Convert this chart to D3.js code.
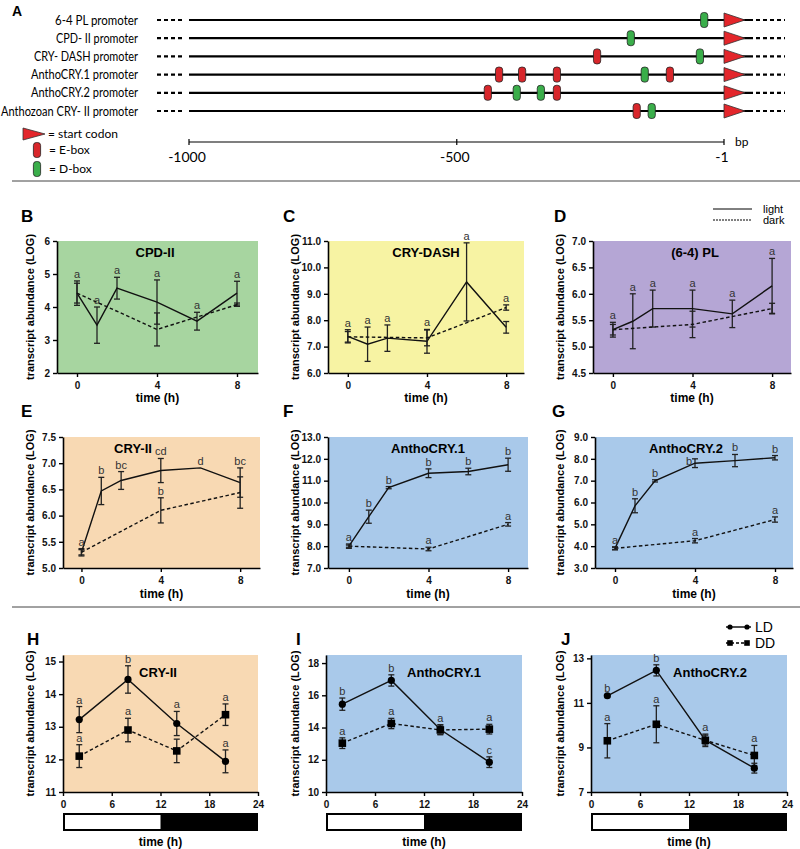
<!DOCTYPE html>
<html>
<head>
<meta charset="utf-8">
<script src="https://cdn.jsdelivr.net/npm/d3@7"></script>
<style>
  body { margin: 0; background: #fff; }
  svg { display: block; font-family: "Liberation Sans", Arial, sans-serif; }
  .tick text { font-weight: bold; font-size: 10px; fill: #111; }
  .promo text { font-family: Lato, "Open Sans", sans-serif; }
</style>
</head>
<body>
<svg width="800" height="849"></svg>
<script>
// ---------- panel A data ----------
const promoterNames = ["6-4 PL promoter", "CPD- II promoter", "CRY- DASH promoter",
  "AnthoCRY.1 promoter", "AnthoCRY.2 promoter", "Anthozoan CRY- II promoter"];
const eBoxes = [[], [], [-238], [-421, -378, -313, -102], [-442, -313], [-164]];
const dBoxes = [[-38], [-175], [-46], [-149], [-388, -343], [-136]];
const bpTicks = [-1000, -500, -1];

// ---------- panels B-G (light / dark time course) ----------
const hourTimes = [0, 1, 2, 4, 6, 8];
const darkTimes = [0, 4, 8];
const hourTicks = [0, 4, 8];

const cpdLight = [4.42, 3.45, 4.57, 4.15, 3.57, 4.42];
const cpdLightErr = [0.37, 0.55, 0.33, 0.67, 0.27, 0.36];
const cpdDark = [4.42, 3.32, 4.07];
const cpdDarkErr = [0.3, 0.5, 0.05];
const cpdLightLetters = ["a", "a", "a", "a", "a", "a"];

const dashLight = [7.39, 7.09, 7.32, 7.2, 9.45, 7.73];
const dashLightErr = [0.25, 0.65, 0.5, 0.45, 1.48, 0.22];
const dashDark = [7.37, 7.33, 8.48];
const dashDarkErr = [0.2, 0.3, 0.1];
const dashLightLetters = ["a", "a", "a", "a", "a", null];
const dashDarkLetters = [null, null, "a"];

const plLight = [5.32, 5.48, 5.72, 5.72, 5.62, 6.15];
const plLightErr = [0.14, 0.52, 0.35, 0.35, 0.26, 0.52];
const plDark = [5.32, 5.42, 5.72];
const plDarkErr = [0.1, 0.25, 0.1];
const plLightLetters = ["a", "a", "a", "a", "a", "a"];

const cry2Light = [5.3, 6.47, 6.67, 6.86, 6.91, 6.63];
const cry2LightErr = [0.07, 0.26, 0.17, 0.23, 0, 0.28];
const cry2Dark = [5.3, 6.1, 6.44];
const cry2DarkErr = [0.05, 0.24, 0.3];
const cry2LightLetters = ["a", "b", "bc", "cd", "d", "bc"];
const cry2DarkLetters = [null, "b", null];

const a1Light = [8.0, 9.35, 10.68, 11.34, 11.42, 11.73];
const a1LightErr = [0.1, 0.3, 0.05, 0.2, 0.15, 0.3];
const a1Dark = [8.0, 7.87, 9.0];
const a1DarkErr = [0.05, 0.08, 0.08];
const a1LightLetters = ["a", "b", "b", "b", "b", "b"];
const a1DarkLetters = [null, "a", "a"];

const a2Light = [3.9, 5.85, 6.99, 7.8, 7.92, 8.05];
const a2LightErr = [0.07, 0.32, 0.05, 0.2, 0.28, 0.1];
const a2Dark = [3.9, 4.25, 5.22];
const a2DarkErr = [0.05, 0.1, 0.12];
const a2LightLetters = ["a", "b", "b", "b", "b", "b"];
const a2DarkLetters = [null, "a", "a"];

// ---------- panels H-J (LD / DD) ----------
const cycleTimes = [2, 8, 14, 20];
const cycleTicks = [0, 6, 12, 18, 24];

const cry2LD = [13.22, 14.45, 13.1, 11.94];
const cry2LDErr = [0.4, 0.42, 0.37, 0.35];
const cry2LDLetters = ["a", "b", "a", "a"];
const cry2DD = [12.1, 12.9, 12.26, 13.37];
const cry2DDErr = [0.35, 0.36, 0.36, 0.33];
const cry2DDLetters = ["a", "a", null, "a"];

const a1LD = [15.45, 16.92, 13.88, 11.85];
const a1LDErr = [0.38, 0.35, 0.3, 0.33];
const a1LDLetters = ["b", "b", "a", "c"];
const a1DD = [13.03, 14.25, 13.85, 13.9];
const a1DDErr = [0.33, 0.32, 0.3, 0.3];
const a1DDLetters = ["a", "a", null, "a"];

const a2LD = [11.32, 12.46, 9.33, 8.07];
const a2LDErr = [0.05, 0.25, 0.22, 0.22];
const a2LDLetters = ["b", "b", null, null];
const a2DD = [9.3, 10.04, 9.32, 8.64];
const a2DDErr = [0.77, 0.83, 0.28, 0.45];
const a2DDLetters = ["a", "a", "a", "a"];

const svg = d3.select("svg");

// ================= panel A =================
function drawPromoters() {
  const g = svg.append("g").attr("class", "promo");
  const bpX = d3.scaleLinear().domain([-1000, -1]).range([189, 724]);
  const rowY = i => 20 + i * 18.2;
  // label widths so the text fits left of the dashes, like the condensed original
  const labelWidths = [83, 82, 104, 107, 107, 137];

  g.append("text").attr("x", 12).attr("y", 16)
    .style("font-family", "Liberation Sans, Arial").style("font-weight", "bold").style("font-size", "14px")
    .text("A");

  const box = (sel, cx, cy, fill) => sel.append("rect")
    .attr("x", cx - 3.6).attr("y", cy - 7.5).attr("width", 7.2).attr("height", 15)
    .attr("rx", 3).attr("fill", fill).attr("stroke", "#222").attr("stroke-width", 0.8);

  promoterNames.forEach((name, i) => {
    const y = rowY(i);
    g.append("text").attr("x", 138).attr("y", y + 4.5).attr("text-anchor", "end")
      .attr("textLength", labelWidths[i]).attr("lengthAdjust", "spacingAndGlyphs")
      .style("font-size", "12.8px").text(name);
    g.append("line").attr("x1", 157).attr("x2", 184).attr("y1", y).attr("y2", y)
      .attr("stroke", "#000").attr("stroke-width", 2.2).attr("stroke-dasharray", "4,3");
    g.append("line").attr("x1", bpX(-1000)).attr("x2", 753).attr("y1", y).attr("y2", y)
      .attr("stroke", "#000").attr("stroke-width", 2.2);
    g.append("line").attr("x1", 756).attr("x2", 785).attr("y1", y).attr("y2", y)
      .attr("stroke", "#000").attr("stroke-width", 2.2).attr("stroke-dasharray", "4,3");
    eBoxes[i].forEach(bp => box(g, bpX(bp), y, "#d8262b"));
    dBoxes[i].forEach(bp => box(g, bpX(bp), y, "#3aae4a"));
    g.append("path").attr("d", `M${bpX(-1)},${y - 7}L${bpX(-1) + 21},${y}L${bpX(-1)},${y + 7}Z`)
      .attr("fill", "#e3262b").attr("stroke", "#333").attr("stroke-width", 0.8);
  });

  // bp scale
  const sy = 142;
  g.append("line").attr("x1", bpX(-1000)).attr("x2", bpX(-1)).attr("y1", sy).attr("y2", sy)
    .attr("stroke", "#000").attr("stroke-width", 1.2);
  bpTicks.forEach(t => {
    g.append("line").attr("x1", bpX(t)).attr("x2", bpX(t)).attr("y1", sy - 3).attr("y2", sy + 3)
      .attr("stroke", "#000").attr("stroke-width", 1.2);
    g.append("text").attr("x", bpX(t) - 2).attr("y", sy + 20).attr("text-anchor", "middle")
      .style("font-size", "14px").text(t);
  });
  g.append("text").attr("x", 735).attr("y", sy + 4).style("font-size", "12px").text("bp");

  // legend
  g.append("path").attr("d", "M23,128L45,134L23,140Z")
    .attr("fill", "#e3262b").attr("stroke", "#333").attr("stroke-width", 0.8);
  g.append("text").attr("x", 48).attr("y", 138).style("font-size", "12px").text("= start codon");
  box(g, 37, 150, "#d8262b");
  g.append("text").attr("x", 49).attr("y", 154).style("font-size", "12px").text("=  E-box");
  box(g, 37, 169, "#3aae4a");
  g.append("text").attr("x", 49).attr("y", 173).style("font-size", "12px").text("= D-box");
}

// ================= chart panels =================
function drawPanel(p) {
  const x = d3.scaleLinear().domain(p.xDomain).range([p.left, p.right]);
  const y = d3.scaleLinear().domain(p.yDomain).range([p.bottom, p.top]);
  const g = svg.append("g");

  g.append("text").attr("x", p.labelX).attr("y", p.labelY)
    .style("font-weight", "bold").style("font-size", "17px").text(p.label);

  g.append("rect").attr("x", p.left).attr("y", p.top)
    .attr("width", p.right - p.left).attr("height", p.bottom - p.top).attr("fill", p.bg);

  const yAxis = g.append("g").attr("transform", `translate(${p.left},0)`)
    .call(d3.axisLeft(y).tickValues(p.yTicks).tickFormat(d3.format(p.yFormat)).tickSize(4).tickSizeOuter(0));
  const xAxis = g.append("g").attr("transform", `translate(0,${p.bottom})`)
    .call(d3.axisBottom(x).tickValues(p.xTicks).tickSize(4).tickSizeOuter(0));
  [yAxis, xAxis].forEach(a => {
    a.select(".domain").attr("stroke-width", 1.6);
    a.selectAll(".tick line").attr("stroke-width", 1.4);
  });
  xAxis.selectAll(".tick text").attr("dy", "0.9em");

  g.append("text")
    .attr("transform", `translate(${p.yLabelX},${(p.top + p.bottom) / 2}) rotate(-90)`)
    .attr("text-anchor", "middle").attr("dy", "0.35em")
    .style("font-weight", "bold").style("font-size", "11px")
    .text("transcript abundance (LOG)");

  g.append("text").attr("x", (p.left + p.right) / 2).attr("y", p.xTitleY)
    .attr("text-anchor", "middle").style("font-weight", "bold").style("font-size", "12px")
    .text("time (h)");

  g.append("text").attr("x", p.titleX).attr("y", p.titleY).attr("text-anchor", "middle")
    .style("font-weight", "bold").style("font-size", "13px").text(p.title);

  if (p.dayBar) {
    const mid = x(12);
    g.append("rect").attr("x", p.left).attr("y", p.dayBar[0]).attr("width", p.right - p.left)
      .attr("height", p.dayBar[1] - p.dayBar[0]).attr("fill", "#000");
    g.append("rect").attr("x", p.left + 2).attr("y", p.dayBar[0] + 2).attr("width", mid - p.left - 2)
      .attr("height", p.dayBar[1] - p.dayBar[0] - 4).attr("fill", "#fff");
  }

  p.series.forEach((s, si) => {
    const shifts = (p.letterShift && p.letterShift[si]) || {};
    const pts = s.times.map((t, i) => ({
      t, v: s.values[i], e: s.errs[i], l: s.letters ? s.letters[i] : null, sh: shifts[i] || [0, 0]
    }));
    // error bars
    pts.filter(d => d.e > 0).forEach(d => {
      const cx = x(d.t), y1 = y(d.v + d.e), y2 = y(d.v - d.e);
      g.append("line").attr("x1", cx).attr("x2", cx).attr("y1", y1).attr("y2", y2)
        .attr("stroke", "#222").attr("stroke-width", 1.3);
      [y1, y2].forEach(yy => g.append("line").attr("x1", cx - 3).attr("x2", cx + 3)
        .attr("y1", yy).attr("y2", yy).attr("stroke", "#222").attr("stroke-width", 1.3));
    });
    g.append("path").datum(pts)
      .attr("d", d3.line().x(d => x(d.t)).y(d => y(d.v)))
      .attr("fill", "none").attr("stroke", "#111").attr("stroke-width", 1.4)
      .attr("stroke-dasharray", s.dashed ? "3.5,2.5" : null);
    if (s.marker === "circle") {
      g.selectAll(null).data(pts).enter().append("circle")
        .attr("cx", d => x(d.t)).attr("cy", d => y(d.v)).attr("r", 3.6).attr("fill", "#000");
    } else if (s.marker === "square") {
      g.selectAll(null).data(pts).enter().append("rect")
        .attr("x", d => x(d.t) - 3.8).attr("y", d => y(d.v) - 3.8)
        .attr("width", 7.6).attr("height", 7.6).attr("fill", "#000");
    }
    g.selectAll(null).data(pts.filter(d => d.l)).enter().append("text")
      .attr("x", d => x(d.t) + d.sh[0]).attr("y", d => y(d.v + d.e) - 3 + d.sh[1])
      .attr("text-anchor", "middle").style("font-size", "11px").style("fill", "#333")
      .text(d => d.l);
  });
}

drawPromoters();

// separators
[181, 607].forEach(yy => svg.append("line").attr("x1", 12).attr("x2", 800)
  .attr("y1", yy).attr("y2", yy).attr("stroke", "#444").attr("stroke-width", 1));

const lightDark = (lv, le, ll, dv, de, dl) => [
  { times: hourTimes, values: lv, errs: le, letters: ll, dashed: false },
  { times: darkTimes, values: dv, errs: de, letters: dl, dashed: true }
];
const ldDd = (lv, le, ll, dv, de, dl) => [
  { times: cycleTimes, values: dv, errs: de, letters: dl, dashed: true, marker: "square" },
  { times: cycleTimes, values: lv, errs: le, letters: ll, dashed: false, marker: "circle" }
];

const row1 = { top: 241, bottom: 373, xTicks: hourTicks, xTitleY: 402, labelY: 222 };
const row2 = { top: 437, bottom: 568, xTicks: hourTicks, xTitleY: 598, labelY: 417 };
const row3 = { top: 655, bottom: 792, xTicks: cycleTicks, xTitleY: 846, labelY: 645, dayBar: [813, 831] };

const GREEN = "#a7d5a0", YELLOW = "#f7f3a3", PURPLE = "#b5a6d5", ORANGE = "#f8d9b3", BLUE = "#a9c9ea";

const panels = [
  Object.assign({}, row1, { label: "B", labelX: 21, left: 57, right: 258, xDomain: [-1, 9.05],
    yDomain: [2, 6], yTicks: [2, 3, 4, 5, 6], yFormat: "d", yLabelX: 30, bg: GREEN,
    title: "CPD-II", titleX: 155, titleY: 257,
    series: lightDark(cpdLight, cpdLightErr, cpdLightLetters, cpdDark, cpdDarkErr, null) }),
  Object.assign({}, row1, { label: "C", labelX: 283, left: 328, right: 524, xDomain: [-1, 8.9],
    yDomain: [6, 11], yTicks: [6, 7, 8, 9, 10, 11], yFormat: ".1f", yLabelX: 295, bg: YELLOW,
    title: "CRY-DASH", titleX: 426, titleY: 257,
    series: lightDark(dashLight, dashLightErr, dashLightLetters, dashDark, dashDarkErr, dashDarkLetters) }),
  Object.assign({}, row1, { label: "D", labelX: 554, left: 593, right: 791, xDomain: [-1, 8.95],
    yDomain: [4.5, 7], yTicks: [4.5, 5, 5.5, 6, 6.5, 7], yFormat: ".1f", yLabelX: 560, bg: PURPLE,
    title: "(6-4) PL", titleX: 695, titleY: 257,
    series: lightDark(plLight, plLightErr, plLightLetters, plDark, plDarkErr, null) }),
  Object.assign({}, row2, { label: "E", labelX: 21, left: 63, right: 260, xDomain: [-0.93, 9.0],
    yDomain: [5, 7.5], yTicks: [5, 5.5, 6, 6.5, 7, 7.5], yFormat: ".1f", yLabelX: 30, bg: ORANGE,
    title: "CRY-II", titleX: 133, titleY: 453,
    series: lightDark(cry2Light, cry2LightErr, cry2LightLetters, cry2Dark, cry2DarkErr, cry2DarkLetters) }),
  Object.assign({}, row2, { label: "F", labelX: 283, left: 328, right: 528, xDomain: [-1.05, 9.0],
    yDomain: [7, 13], yTicks: [7, 8, 9, 10, 11, 12, 13], yFormat: ".1f", yLabelX: 295, bg: BLUE,
    title: "AnthoCRY.1", titleX: 428, titleY: 453,
    series: lightDark(a1Light, a1LightErr, a1LightLetters, a1Dark, a1DarkErr, a1DarkLetters) }),
  Object.assign({}, row2, { label: "G", labelX: 552, left: 595, right: 793, xDomain: [-1, 8.9],
    yDomain: [3, 9], yTicks: [3, 4, 5, 6, 7, 8, 9], yFormat: ".1f", yLabelX: 560, bg: BLUE,
    title: "AnthoCRY.2", titleX: 686, titleY: 453, letterShift: { 0: { 3: [-6, 9] } },
    series: lightDark(a2Light, a2LightErr, a2LightLetters, a2Dark, a2DarkErr, a2DarkLetters) }),
  Object.assign({}, row3, { label: "H", labelX: 27, left: 63, right: 258, xDomain: [0, 24],
    yDomain: [11, 15.2], yTicks: [11, 12, 13, 14, 15], yFormat: "d", yLabelX: 30, bg: ORANGE,
    title: "CRY-II", titleX: 158, titleY: 677,
    series: ldDd(cry2LD, cry2LDErr, cry2LDLetters, cry2DD, cry2DDErr, cry2DDLetters) }),
  Object.assign({}, row3, { label: "I", labelX: 296, left: 326, right: 522, xDomain: [0, 24],
    yDomain: [10, 18.5], yTicks: [10, 12, 14, 16, 18], yFormat: "d", yLabelX: 295, bg: BLUE,
    title: "AnthoCRY.1", titleX: 444, titleY: 677,
    series: ldDd(a1LD, a1LDErr, a1LDLetters, a1DD, a1DDErr, a1DDLetters) }),
  Object.assign({}, row3, { label: "J", labelX: 561, left: 591, right: 787, xDomain: [0, 24],
    yDomain: [7, 13.15], yTicks: [7, 9, 11, 13], yFormat: "d", yLabelX: 560, bg: BLUE,
    title: "AnthoCRY.2", titleX: 710, titleY: 677,
    series: ldDd(a2LD, a2LDErr, a2LDLetters, a2DD, a2DDErr, a2DDLetters) })
];

panels.forEach(drawPanel);

// light / dark legend (panel D)
const lg = svg.append("g");
lg.append("line").attr("x1", 713).attr("x2", 752).attr("y1", 209).attr("y2", 209)
  .attr("stroke", "#000").attr("stroke-width", 1);
lg.append("line").attr("x1", 713).attr("x2", 752).attr("y1", 220).attr("y2", 220)
  .attr("stroke", "#000").attr("stroke-width", 1).attr("stroke-dasharray", "2,1");
lg.append("text").attr("x", 763).attr("y", 213).style("font-size", "11px").text("light");
lg.append("text").attr("x", 763).attr("y", 224).style("font-size", "11px").text("dark");

// LD / DD legend (panel J)
const lg2 = svg.append("g");
lg2.append("line").attr("x1", 726).attr("x2", 751).attr("y1", 627).attr("y2", 627)
  .attr("stroke", "#000").attr("stroke-width", 1.4);
[730, 747].forEach(cx => lg2.append("circle").attr("cx", cx).attr("cy", 627).attr("r", 2.6));
lg2.append("line").attr("x1", 726).attr("x2", 751).attr("y1", 643).attr("y2", 643)
  .attr("stroke", "#000").attr("stroke-width", 1.4).attr("stroke-dasharray", "3,2");
[730, 747].forEach(cx => lg2.append("rect").attr("x", cx - 2.8).attr("y", 640.2).attr("width", 5.6).attr("height", 5.6));
lg2.append("text").attr("x", 755).attr("y", 632).style("font-size", "14px").text("LD");
lg2.append("text").attr("x", 755).attr("y", 648).style("font-size", "14px").text("DD");
</script>
</body>
</html>
